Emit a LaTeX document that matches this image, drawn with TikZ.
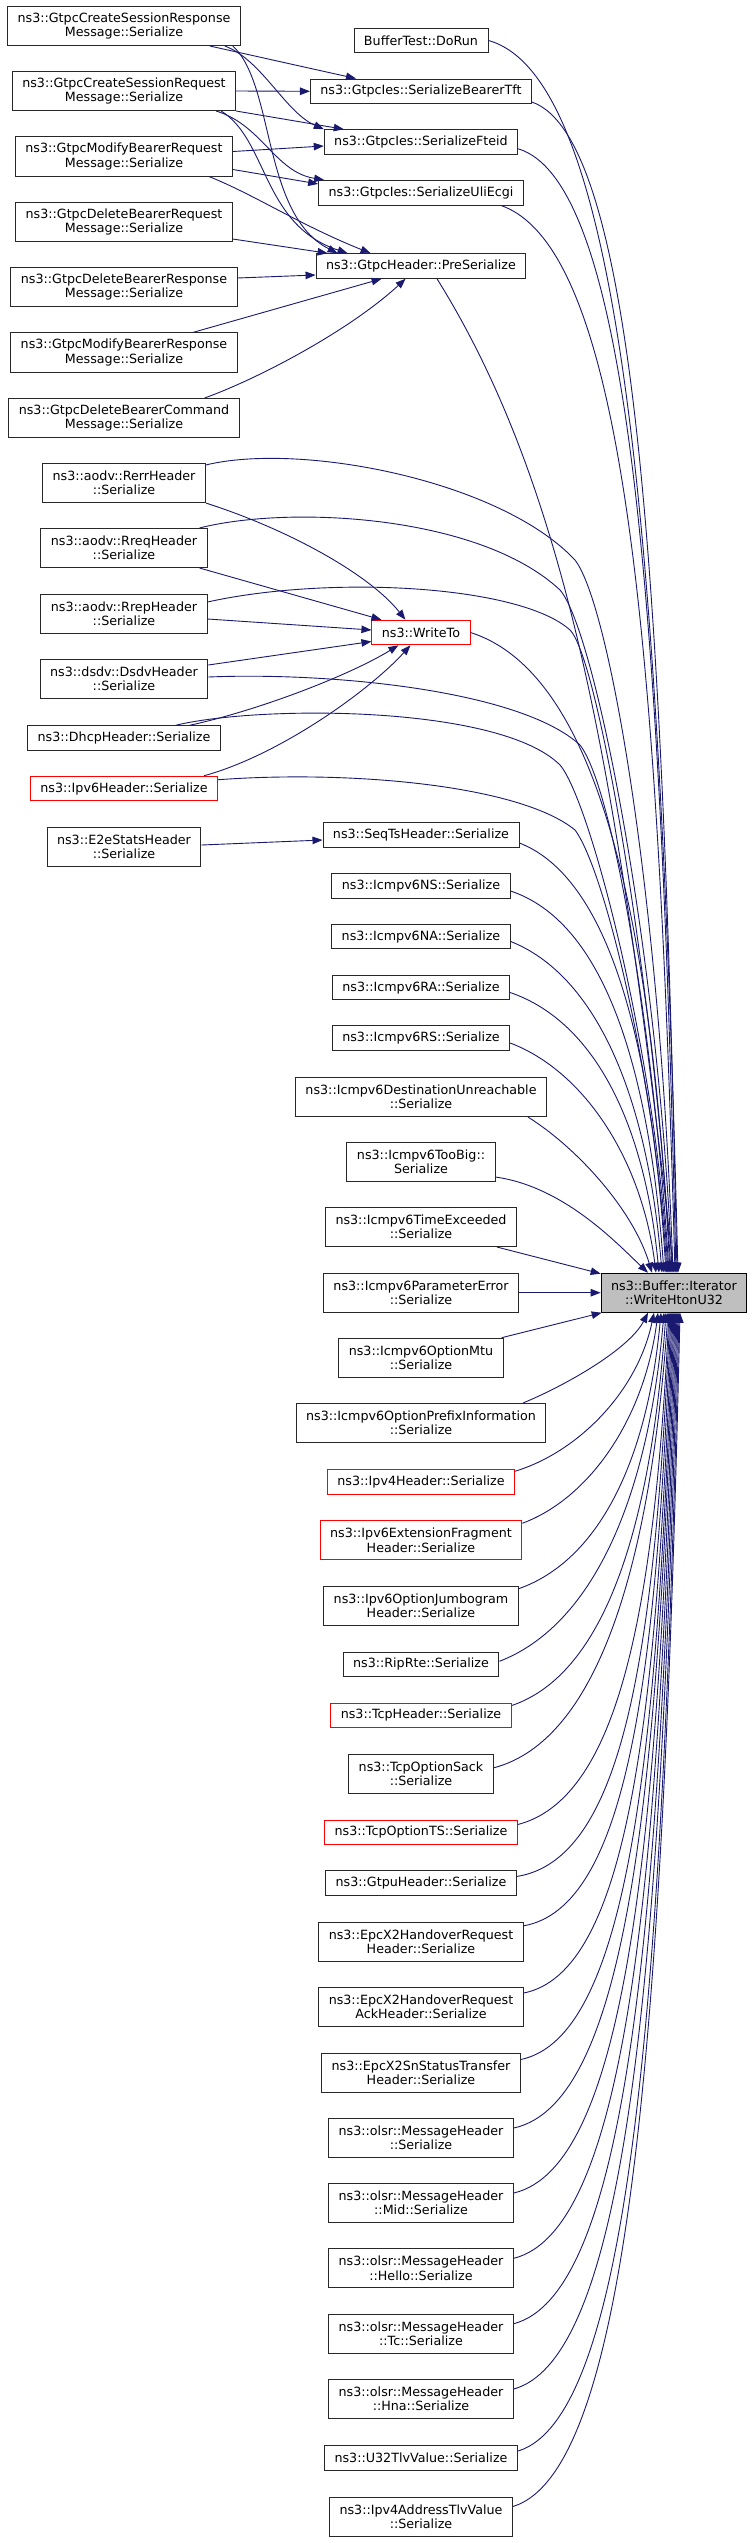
\documentclass[tikz,border=0pt]{standalone}
\usepackage{fontspec}
\setmainfont{DejaVu Sans}
\usetikzlibrary{arrows.meta,calc}
\definecolor{edgeblue}{RGB}{25,25,112}
\definecolor{boxline}{RGB}{40,40,40}
\definecolor{rootfill}{RGB}{191,191,191}
\newcommand\myedge[6]{\draw[edge] let \p1=#1, \p2=#2 in (\p1) .. controls ({\x1+#3*(\x2-\x1)},{\y1+#4*(\y2-\y1)}) and ({\x2-#5*(\x2-\x1)},{\y2-#6*(\y2-\y1)}) .. (\p2);}
\begin{document}
\begin{tikzpicture}[x=1pt,y=-1pt,
 box/.style={draw=boxline, line width=0.95pt, fill=white, inner xsep=10pt, inner ysep=0pt, minimum height=24.6pt, align=center, font=\fontsize{12.7}{14.4}\selectfont},
 two/.style={minimum height=39.1pt},
 trunc/.style={draw=red},
 root/.style={fill=rootfill, draw=black},
 edge/.style={draw=edgeblue, line width=0.9pt, -{Triangle[length=10pt,width=7.5pt]}}]
\fill[white] (0,0) rectangle (753,2543);
\useasboundingbox (0,0) rectangle (753,2543);
% left column
\node[box,two] (resp) at (124,26) {ns3::GtpcCreateSessionResponse\\Message::Serialize};
\node[box,two] (req) at (124,91) {ns3::GtpcCreateSessionRequest\\Message::Serialize};
\node[box,two] (modreq) at (124,156.5) {ns3::GtpcModifyBearerRequest\\Message::Serialize};
\node[box,two] (delreq) at (124,222) {ns3::GtpcDeleteBearerRequest\\Message::Serialize};
\node[box,two] (delresp) at (124,287) {ns3::GtpcDeleteBearerResponse\\Message::Serialize};
\node[box,two] (modresp) at (124,352.5) {ns3::GtpcModifyBearerResponse\\Message::Serialize};
\node[box,two] (delcmd) at (124,418) {ns3::GtpcDeleteBearerCommand\\Message::Serialize};
\node[box,two] (rerr) at (124,483) {ns3::aodv::RerrHeader\\::Serialize};
\node[box,two] (rreq) at (124,548) {ns3::aodv::RreqHeader\\::Serialize};
\node[box,two] (rrep) at (124,614) {ns3::aodv::RrepHeader\\::Serialize};
\node[box,two] (dsdv) at (124,679) {ns3::dsdv::DsdvHeader\\::Serialize};
\node[box] (dhcp) at (124,738) {ns3::DhcpHeader::Serialize};
\node[box,trunc] (ipv6) at (124,788.5) {ns3::Ipv6Header::Serialize};
\node[box,two] (e2e) at (124,847) {ns3::E2eStatsHeader\\::Serialize};
% middle column
\node[box] (dorun) at (421,40.5) {BufferTest::DoRun};
\node[box] (tft) at (421,91.3) {ns3::GtpcIes::SerializeBearerTft};
\node[box] (fteid) at (421,142) {ns3::GtpcIes::SerializeFteid};
\node[box] (uli) at (421,192.7) {ns3::GtpcIes::SerializeUliEcgi};
\node[box] (pre) at (421,266) {ns3::GtpcHeader::PreSerialize};
\node[box,trunc] (writeto) at (421,632.5) {ns3::WriteTo};
\node[box] (seqts) at (421,835) {ns3::SeqTsHeader::Serialize};
\node[box] (ns) at (421,886) {ns3::Icmpv6NS::Serialize};
\node[box] (na) at (421,936.5) {ns3::Icmpv6NA::Serialize};
\node[box] (ra) at (421,987.5) {ns3::Icmpv6RA::Serialize};
\node[box] (rs) at (421,1038) {ns3::Icmpv6RS::Serialize};
\node[box,two] (destun) at (421,1097) {ns3::Icmpv6DestinationUnreachable\\::Serialize};
\node[box,two] (toobig) at (421,1162) {ns3::Icmpv6TooBig::\\Serialize};
\node[box,two] (timeex) at (421,1227) {ns3::Icmpv6TimeExceeded\\::Serialize};
\node[box,two] (paramerr) at (421,1292.7) {ns3::Icmpv6ParameterError\\::Serialize};
\node[box,two] (optmtu) at (421,1357.7) {ns3::Icmpv6OptionMtu\\::Serialize};
\node[box,two] (prefix) at (421,1423) {ns3::Icmpv6OptionPrefixInformation\\::Serialize};
\node[box,trunc] (ipv4) at (421,1482) {ns3::Ipv4Header::Serialize};
\node[box,two,trunc] (frag) at (421,1540.3) {ns3::Ipv6ExtensionFragment\\Header::Serialize};
\node[box,two] (jumbo) at (421,1605.7) {ns3::Ipv6OptionJumbogram\\Header::Serialize};
\node[box] (riprte) at (421,1664.3) {ns3::RipRte::Serialize};
\node[box,trunc] (tcphdr) at (421,1715.3) {ns3::TcpHeader::Serialize};
\node[box,two] (sack) at (421,1773.8) {ns3::TcpOptionSack\\::Serialize};
\node[box,trunc] (ts) at (421,1832.3) {ns3::TcpOptionTS::Serialize};
\node[box] (gtpu) at (421,1883.2) {ns3::GtpuHeader::Serialize};
\node[box,two] (x2req) at (421,1941.8) {ns3::EpcX2HandoverRequest\\Header::Serialize};
\node[box,two] (x2ack) at (421,2007) {ns3::EpcX2HandoverRequest\\AckHeader::Serialize};
\node[box,two] (x2sn) at (421,2072.5) {ns3::EpcX2SnStatusTransfer\\Header::Serialize};
\node[box,two] (olsr) at (421,2138) {ns3::olsr::MessageHeader\\::Serialize};
\node[box,two] (mid) at (421,2203) {ns3::olsr::MessageHeader\\::Mid::Serialize};
\node[box,two] (hello) at (421,2268.3) {ns3::olsr::MessageHeader\\::Hello::Serialize};
\node[box,two] (tc) at (421,2333.7) {ns3::olsr::MessageHeader\\::Tc::Serialize};
\node[box,two] (hna) at (421,2399) {ns3::olsr::MessageHeader\\::Hna::Serialize};
\node[box] (u32) at (421,2457.8) {ns3::U32TlvValue::Serialize};
\node[box,two] (ipv4tlv) at (421,2516.5) {ns3::Ipv4AddressTlvValue\\::Serialize};
% root
\node[box,two,root] (hton) at (674,1292.7) {ns3::Buffer::Iterator\\::WriteHtonU32};
% Gtpc edges
\draw[edge] ([xshift=-31pt]resp.south east) -- ([xshift=46pt]tft.north west);
\draw[edge] ([xshift=-16pt]resp.south east) .. controls (262,60) and (285,112) .. (fteid.north west);
\draw[edge] ([xshift=-8pt]resp.south east) .. controls (275,85) and (262,215) .. ([xshift=22pt]pre.north west);
\draw[edge] (req.east) -- (tft.west);
\draw[edge] (req.south east) -- ([xshift=20pt]fteid.north west);
\draw[edge] ([xshift=-20pt]req.south east) .. controls (262,125) and (275,172) .. ([xshift=6pt]uli.north west);
\draw[edge] ([xshift=-15pt]req.south east) .. controls (268,140) and (262,225) .. ([xshift=32pt]pre.north west);
\draw[edge] ([yshift=5pt]modreq.east) -- ([yshift=-4pt]fteid.west);
\draw[edge] ([yshift=-13pt]modreq.east) -- ([yshift=-4pt]uli.north west);
\draw[edge] ([xshift=-24pt]modreq.south east) .. controls (255,195) and (300,225) .. ([xshift=55pt]pre.north west);
\draw[edge] ([yshift=3pt]delreq.south east) -- ([xshift=12pt]pre.north west);
\draw[edge] ([yshift=9pt]delresp.east) -- ([yshift=-9pt]pre.west);
\draw[edge] ([xshift=-45pt]modresp.north east) -- ([xshift=66pt]pre.south west);
\draw[edge] ([xshift=-35pt]delcmd.north east) .. controls (260,378) and (350,330) .. ([xshift=90pt]pre.south west);
% WriteTo edges
\draw[edge] (rerr.south east) .. controls (290,530) and (370,575) .. ([xshift=34pt]writeto.north west);
\draw[edge] ([xshift=-8pt]rreq.south east) -- ([xshift=10pt]writeto.north west);
\draw[edge] ([yshift=-5pt]rrep.east) -- ([yshift=2.5pt]writeto.west);
\draw[edge] ([yshift=14pt]dsdv.east) -- ([yshift=-9pt]writeto.west);
\draw[edge] ([xshift=-31pt]dhcp.north east) .. controls (260,710) and (350,675) .. ([xshift=27pt]writeto.south west);
\draw[edge] ([xshift=-14pt]ipv6.north east) .. controls (280,755) and (370,690) .. ([xshift=39pt]writeto.south west);
% left to root
\draw[edge] ([yshift=-2pt]rerr.north east) .. controls (300,442) and (500,480) .. (575,560) .. controls (610,605) and (660,900) .. ([xshift=-1pt]hton.north);
\draw[edge] ([xshift=-8pt]rreq.north east) .. controls (290,505) and (480,515) .. (560,590) .. controls (595,630) and (658,950) .. ([xshift=-2pt]hton.north);
\draw[edge] ([yshift=-8pt]rrep.north east) .. controls (330,575) and (520,585) .. (570,630) .. controls (600,660) and (655,1000) .. ([xshift=-3pt]hton.north);
\draw[edge] ([yshift=2pt]dsdv.east) .. controls (330,672) and (520,690) .. (580,745) .. controls (615,790) and (655,1050) .. ([xshift=-5pt]hton.north);
\draw[edge] ([xshift=-45pt]dhcp.north east) .. controls (260,705) and (500,705) .. (560,765) .. controls (590,800) and (655,1050) .. ([xshift=-6pt]hton.north);
\draw[edge] ([yshift=-4pt]ipv6.north east) .. controls (350,770) and (520,785) .. (575,830) .. controls (605,870) and (655,1080) .. ([xshift=-7pt]hton.north);
\draw[edge] ([yshift=2pt]e2e.east) -- ([yshift=-5pt]seqts.west);
% middle to root, from above
\myedge{(dorun.east)}{([xshift=4pt]hton.north)}{.7}{.03}{.1}{.6}
\myedge{([yshift=2pt]tft.south east)}{([xshift=3pt]hton.north)}{.7}{.03}{.1}{.6}
\myedge{([yshift=6pt]fteid.south east)}{([xshift=2pt]hton.north)}{.7}{.03}{.1}{.6}
\myedge{([xshift=80pt]uli.south)}{([xshift=1pt]hton.north)}{.7}{.04}{.1}{.6}
\draw[edge] ([xshift=16pt]pre.south) .. controls (575,500) and (620,800) .. (hton.north);
\myedge{(writeto.east)}{([xshift=-4pt]hton.north)}{.6}{.06}{.1}{.6}
\myedge{([yshift=-8pt]seqts.east)}{([xshift=-8pt]hton.north)}{.6}{.08}{.1}{.55}
\myedge{([yshift=-5pt]ns.east)}{([xshift=-10pt]hton.north)}{.6}{.08}{.1}{.55}
\myedge{([yshift=-5pt]na.east)}{([xshift=-12pt]hton.north)}{.55}{.1}{.1}{.55}
\myedge{([yshift=-5pt]ra.east)}{([xshift=-15pt]hton.north)}{.55}{.1}{.1}{.55}
\myedge{([yshift=-5pt]rs.east)}{([xshift=-18pt]hton.north)}{.5}{.12}{.1}{.5}
\myedge{([xshift=107pt]destun.south)}{([xshift=-22pt]hton.north)}{.4}{.2}{.15}{.4}
\myedge{([yshift=5pt]toobig.south east)}{([xshift=-26pt]hton.north)}{.45}{.1}{.2}{.3}
\draw[edge] ([xshift=-20pt]timeex.south east) -- ([yshift=-1pt]hton.north west);
\draw[edge] (paramerr.east) -- (hton.west);
\draw[edge] ([xshift=-2pt]optmtu.north east) -- ([xshift=1pt]hton.south west);
% middle to root, from below
\myedge{([xshift=102pt]prefix.north)}{([xshift=-26pt]hton.south)}{.35}{.2}{.15}{.4}
\myedge{([yshift=-2pt]ipv4.north east)}{([xshift=-20pt]hton.south)}{.45}{.12}{.12}{.5}
\myedge{([yshift=-3pt]frag.north east)}{([xshift=-16pt]hton.south)}{.5}{.12}{.1}{.5}
\myedge{([yshift=-3pt]jumbo.north east)}{([xshift=-13pt]hton.south)}{.55}{.1}{.1}{.55}
\myedge{([yshift=3pt]riprte.east)}{([xshift=-10pt]hton.south)}{.55}{.1}{.1}{.55}
\myedge{([yshift=-3pt]tcphdr.north east)}{([xshift=-8pt]hton.south)}{.6}{.08}{.1}{.55}
\myedge{([yshift=6pt]sack.east)}{([xshift=-6pt]hton.south)}{.6}{.06}{.1}{.55}
\myedge{([yshift=-5pt]ts.north east)}{([xshift=-5pt]hton.south)}{.65}{.05}{.1}{.6}
\myedge{([yshift=-6pt]gtpu.north east)}{([xshift=-4pt]hton.south)}{.7}{.03}{.1}{.6}
\myedge{([yshift=-4pt]x2req.north east)}{([xshift=-3pt]hton.south)}{.7}{.03}{.1}{.6}
\myedge{([yshift=-6pt]x2ack.north east)}{([xshift=-2pt]hton.south)}{.7}{.03}{.1}{.6}
\myedge{([yshift=-7pt]x2sn.north east)}{([xshift=-1pt]hton.south)}{.7}{.03}{.1}{.6}
\myedge{([yshift=-10pt]olsr.north east)}{(hton.south)}{.7}{.03}{.1}{.6}
\myedge{([yshift=-10pt]mid.north east)}{([xshift=1pt]hton.south)}{.7}{.03}{.1}{.6}
\myedge{([yshift=-10pt]hello.north east)}{([xshift=2pt]hton.south)}{.7}{.03}{.1}{.6}
\myedge{([yshift=-10pt]tc.north east)}{([xshift=3pt]hton.south)}{.7}{.03}{.1}{.6}
\myedge{([yshift=-10pt]hna.north east)}{([xshift=4pt]hton.south)}{.7}{.03}{.1}{.6}
\myedge{([yshift=-6pt]u32.north east)}{([xshift=5pt]hton.south)}{.7}{.03}{.1}{.6}
\myedge{([yshift=-10pt]ipv4tlv.north east)}{([xshift=6pt]hton.south)}{.7}{.03}{.1}{.6}
\end{tikzpicture}
\end{document}
